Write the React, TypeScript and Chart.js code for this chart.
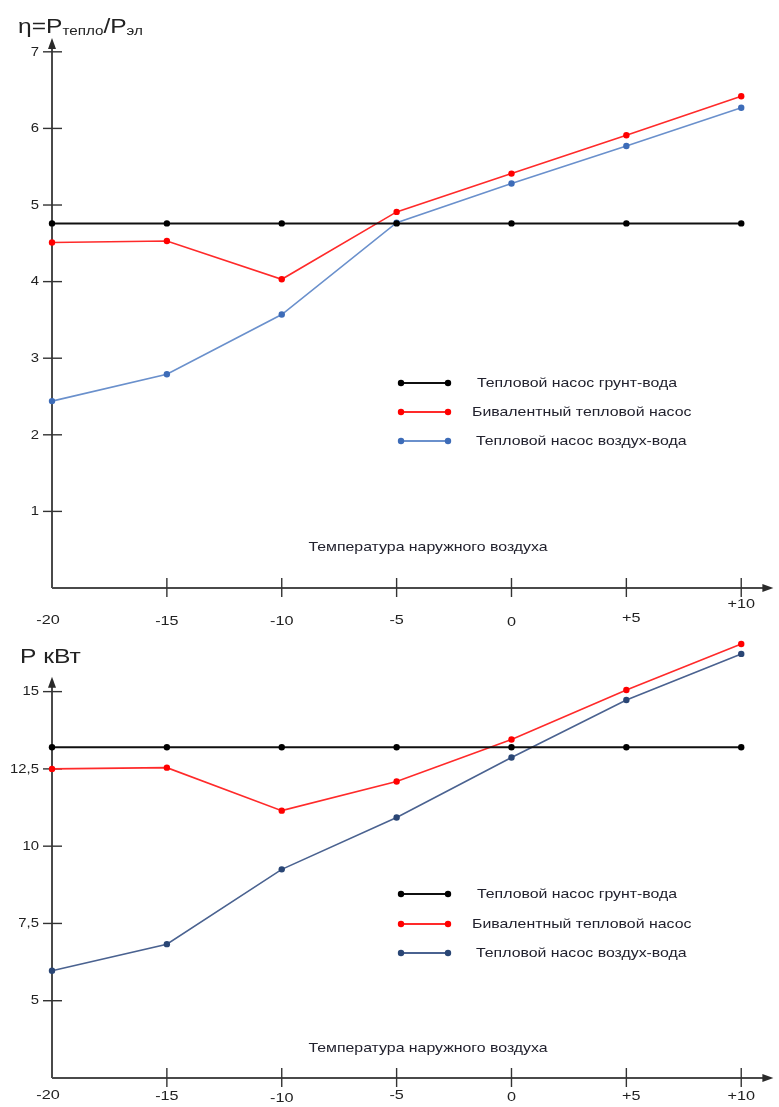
import React, { useEffect, useRef } from "react";
import { Chart, registerables } from "chart.js";

Chart.register(...registerables);

// ---------- DATA ----------
const temperatures = [-20, -15, -10, -5, 0, 5, 10];
const tempTickLabels = ["-20", "-15", "-10", "-5", "0", "+5", "+10"];
const seriesLabels = [
  "Тепловой насос грунт-вода",
  "Бивалентный тепловой насос",
  "Тепловой насос воздух-вода",
];
const xAxisTitle = "Температура наружного воздуха";

const copGround = [4.76, 4.76, 4.76, 4.76, 4.76, 4.76, 4.76];
const copBivalent = [4.51, 4.53, 4.03, 4.91, 5.41, 5.91, 6.42];
const copAir = [2.44, 2.79, 3.57, 4.77, 5.28, 5.77, 6.27];
const copTicks = [1, 2, 3, 4, 5, 6, 7];
const copTickLabels = ["1", "2", "3", "4", "5", "6", "7"];

const powerGround = [13.2, 13.2, 13.2, 13.2, 13.2, 13.2, 13.2];
const powerBivalent = [12.5, 12.54, 11.15, 12.09, 13.45, 15.05, 16.54];
const powerAir = [5.97, 6.83, 9.25, 10.93, 12.87, 14.73, 16.22];
const powerTicks = [5, 7.5, 10, 12.5, 15];
const powerTickLabels = ["5", "7,5", "10", "12,5", "15"];

const FONT = "'Liberation Sans', Arial, sans-serif";

type Decor = {
  yMin: number;
  yArrow: number;
  xArrow: number;
  yTicks: number[];
  yTickLabels: string[];
  xLabelY: number[];
  legendRows: number[];
  legendTextX: number[];
  colors: { line: string; point: string }[];
  titleParts: { text: string; sub: boolean }[];
  titleX: number;
  titleY: number;
  axisTitleY: number;
};

function stretchText(
  ctx: CanvasRenderingContext2D,
  text: string,
  x: number,
  y: number,
  align: CanvasTextAlign,
  sx: number
) {
  ctx.save();
  ctx.translate(x, y);
  ctx.scale(sx, 1);
  ctx.textAlign = align;
  ctx.fillText(text, 0, 0);
  ctx.restore();
}

function makePlugin(d: Decor) {
  return {
    id: "decor",
    beforeDatasetsDraw(chart: any) {
      const ctx = chart.ctx as CanvasRenderingContext2D;
      const xs = chart.scales.x;
      const ys = chart.scales.y;
      const x0 = xs.getPixelForValue(-20);
      const y0 = ys.getPixelForValue(d.yMin);
      const yTip = ys.getPixelForValue(d.yArrow);
      const xTip = xs.getPixelForValue(d.xArrow);
      ctx.save();
      ctx.strokeStyle = "#4a4a4a";
      ctx.fillStyle = "#2a2a2a";
      ctx.lineWidth = 2;
      ctx.beginPath();
      ctx.moveTo(x0, y0);
      ctx.lineTo(x0, yTip + 6);
      ctx.moveTo(x0, y0);
      ctx.lineTo(xTip - 6, y0);
      ctx.stroke();
      ctx.beginPath();
      ctx.moveTo(x0, yTip);
      ctx.lineTo(x0 - 4, yTip + 11);
      ctx.lineTo(x0 + 4, yTip + 11);
      ctx.closePath();
      ctx.fill();
      ctx.beginPath();
      ctx.moveTo(xTip, y0);
      ctx.lineTo(xTip - 11, y0 - 4);
      ctx.lineTo(xTip - 11, y0 + 4);
      ctx.closePath();
      ctx.fill();
      // y ticks
      ctx.lineWidth = 1.4;
      ctx.strokeStyle = "#333";
      ctx.font = `13.5px ${FONT}`;
      ctx.textBaseline = "middle";
      ctx.fillStyle = "#222222";
      d.yTicks.forEach((v, i) => {
        const py = ys.getPixelForValue(v);
        ctx.beginPath();
        ctx.moveTo(x0 - 9, py);
        ctx.lineTo(x0 + 10, py);
        ctx.stroke();
        stretchText(ctx, d.yTickLabels[i], x0 - 13, py, "right", 1.1);
      });
      // x ticks
      temperatures.forEach((v, i) => {
        const px = xs.getPixelForValue(v);
        if (i > 0) {
          ctx.beginPath();
          ctx.moveTo(px, y0 - 10);
          ctx.lineTo(px, y0 + 9);
          ctx.stroke();
        }
        const dx = i === 0 ? -4 : i === 5 ? 5 : 0;
        stretchText(ctx, tempTickLabels[i], px + dx, y0 + d.xLabelY[i], "center", 1.2);
      });
      // axis title
      ctx.font = `13px ${FONT}`;
      ctx.fillStyle = "#22222e";
      stretchText(ctx, xAxisTitle, 428, d.axisTitleY, "center", 1.22);
      ctx.restore();
    },
    afterDatasetsDraw(chart: any) {
      const ctx = chart.ctx as CanvasRenderingContext2D;
      ctx.save();
      d.legendRows.forEach((ry, i) => {
        const c = d.colors[i];
        ctx.strokeStyle = c.line;
        ctx.lineWidth = 1.8;
        ctx.beginPath();
        ctx.moveTo(401, ry);
        ctx.lineTo(448, ry);
        ctx.stroke();
        ctx.fillStyle = c.point;
        [401, 448].forEach((px) => {
          ctx.beginPath();
          ctx.arc(px, ry, 3.2, 0, Math.PI * 2);
          ctx.fill();
        });
        ctx.fillStyle = "#22222e";
        ctx.font = `13px ${FONT}`;
        ctx.textBaseline = "middle";
        stretchText(ctx, seriesLabels[i], d.legendTextX[i], ry, "left", 1.22);
      });
      // title
      let x = d.titleX;
      const sx = 1.17;
      ctx.fillStyle = "#222222";
      ctx.textBaseline = "alphabetic";
      d.titleParts.forEach((p) => {
        ctx.font = p.sub ? `13px ${FONT}` : `21px ${FONT}`;
        const yy = p.sub ? d.titleY + 2 : d.titleY;
        stretchText(ctx, p.text, x, yy, "left", sx);
        x += ctx.measureText(p.text).width * sx;
      });
      ctx.restore();
    },
  };
}

function makeDataset(label: string, data: number[], line: string, point: string, width: number) {
  return {
    label,
    data: data.map((v, i) => ({ x: temperatures[i], y: v })),
    borderColor: line,
    backgroundColor: point,
    pointBackgroundColor: point,
    pointBorderColor: point,
    borderWidth: width,
    pointRadius: 3.2,
    pointBorderWidth: 0,
    tension: 0,
    clip: false as any,
  };
}

function ChartCanvas(props: {
  top: number;
  height: number;
  datasets: any[];
  yMin: number;
  yMax: number;
  xMax: number;
  padding: { left: number; right: number; top: number; bottom: number };
  decor: Decor;
}) {
  const ref = useRef<HTMLCanvasElement | null>(null);
  useEffect(() => {
    if (!ref.current) return;
    const chart = new Chart(ref.current, {
      type: "line",
      data: { datasets: props.datasets },
      options: {
        animation: false,
        responsive: false,
        maintainAspectRatio: false,
        devicePixelRatio: 1,
        layout: { padding: props.padding },
        plugins: { legend: { display: false }, tooltip: { enabled: false } },
        scales: {
          x: { type: "linear", min: -20, max: props.xMax, display: false },
          y: { type: "linear", min: props.yMin, max: props.yMax, display: false },
        },
      },
      plugins: [makePlugin(props.decor) as any],
    });
    return () => chart.destroy();
  }, []);
  return (
    <canvas
      ref={ref}
      width={779}
      height={props.height}
      style={{ position: "absolute", left: 0, top: props.top, width: 779, height: props.height }}
    />
  );
}

export default function App() {
  const topColors = [
    { line: "#101010", point: "#000000" },
    { line: "#ff2a2a", point: "#ff0000" },
    { line: "#6a90cc", point: "#3d6cb8" },
  ];
  const botColors = [
    { line: "#101010", point: "#000000" },
    { line: "#ff2a2a", point: "#ff0000" },
    { line: "#4a6290", point: "#2a4675" },
  ];
  const topDatasets = [
    makeDataset(seriesLabels[0], copGround, topColors[0].line, topColors[0].point, 2),
    makeDataset(seriesLabels[1], copBivalent, topColors[1].line, topColors[1].point, 1.6),
    makeDataset(seriesLabels[2], copAir, topColors[2].line, topColors[2].point, 1.6),
  ];
  const botDatasets = [
    makeDataset(seriesLabels[0], powerGround, botColors[0].line, botColors[0].point, 2),
    makeDataset(seriesLabels[1], powerBivalent, botColors[1].line, botColors[1].point, 1.6),
    makeDataset(seriesLabels[2], powerAir, botColors[2].line, botColors[2].point, 1.6),
  ];
  return (
    <div style={{ position: "absolute", left: 0, top: 0, width: 779, height: 1107, background: "#fff", overflow: "hidden" }}>
      <ChartCanvas
        top={0}
        height={640}
        datasets={topDatasets}
        yMin={0}
        yMax={7.2}
        xMax={11.47}
        padding={{ left: 52, right: 0, top: 36.5, bottom: 52 }}
        decor={{
          yMin: 0,
          yArrow: 7.18,
          xArrow: 11.4,
          yTicks: copTicks,
          yTickLabels: copTickLabels,
          xLabelY: [32, 33, 33, 32, 34, 30, 16],
          legendRows: [383, 412, 441],
          legendTextX: [477, 472, 476],
          colors: topColors,
          titleParts: [
            { text: "η=P", sub: false },
            { text: "тепло", sub: true },
            { text: "/P", sub: false },
            { text: "эл", sub: true },
          ],
          titleX: 18,
          titleY: 33,
          axisTitleY: 547,
        }}
      />
      <ChartCanvas
        top={632}
        height={475}
        datasets={botDatasets}
        yMin={2.5}
        yMax={16.67}
        xMax={11.47}
        padding={{ left: 52, right: 0, top: 8, bottom: 29 }}
        decor={{
          yMin: 2.5,
          yArrow: 15.48,
          xArrow: 11.4,
          yTicks: powerTicks,
          yTickLabels: powerTickLabels,
          xLabelY: [17, 18, 20, 17, 19, 18, 18],
          legendRows: [894 - 632, 924 - 632, 953 - 632],
          legendTextX: [477, 472, 476],
          colors: botColors,
          titleParts: [{ text: "P кВт", sub: false }],
          titleX: 20,
          titleY: 663 - 632,
          axisTitleY: 1048 - 632,
        }}
      />
    </div>
  );
}
